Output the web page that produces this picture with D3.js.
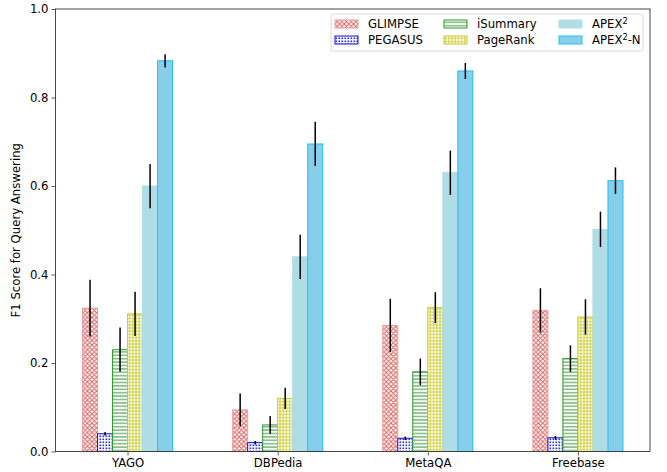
<!DOCTYPE html>
<html>
<head>
<meta charset="utf-8">
<script src="https://cdn.jsdelivr.net/npm/d3@7"></script>
<style>
  body { margin: 0; background: #fff; }
  text { font-family: "DejaVu Sans", sans-serif; fill: #000; }
</style>
</head>
<body>
<div id="chart"></div>
<script>
const datasets = ["YAGO", "DBPedia", "MetaQA", "Freebase"];
const methods = ["GLIMPSE", "PEGASUS", "iSummary", "PageRank", "APEX2", "APEX2-N"];

// f1 score per method, one value per dataset
const glimpse = [0.324, 0.094, 0.285, 0.319];
const pegasus = [0.040, 0.020, 0.030, 0.031];
const isummary = [0.230, 0.060, 0.180, 0.210];
const pagerank = [0.311, 0.120, 0.325, 0.304];
const apex2 = [0.600, 0.440, 0.630, 0.502];
const apex2n = [0.883, 0.695, 0.860, 0.612];

// half length of the error bars
const glimpseErr = [0.064, 0.037, 0.060, 0.050];
const pegasusErr = [0.004, 0.004, 0.004, 0.004];
const isummaryErr = [0.050, 0.020, 0.030, 0.030];
const pagerankErr = [0.050, 0.024, 0.035, 0.040];
const apex2Err = [0.050, 0.050, 0.050, 0.040];
const apex2nErr = [0.015, 0.050, 0.018, 0.030];

const yTicks = [0, 0.2, 0.4, 0.6, 0.8, 1.0];

const values = [glimpse, pegasus, isummary, pagerank, apex2, apex2n];
const errors = [glimpseErr, pegasusErr, isummaryErr, pagerankErr, apex2Err, apex2nErr];

const width = 667, height = 472;
const margin = {left: 55.5, right: 17, top: 9, bottom: 20.5};
const barW = 0.1;
const fs = 11.7;

const svg = d3.select("#chart").append("svg")
    .attr("width", width)
    .attr("height", height);

const x = d3.scaleLinear()
    .domain([-0.48, 3.48])
    .range([margin.left, width - margin.right]);
const y = d3.scaleLinear()
    .domain([0, 1])
    .range([height - margin.bottom, margin.top]);

//hatch patterns, one per method
const defs = svg.append("defs");

let p = defs.append("pattern").attr("id", "h0").attr("patternUnits", "userSpaceOnUse")
    .attr("width", 4.6).attr("height", 4.6);
p.append("rect").attr("width", 4.6).attr("height", 4.6).attr("fill", "#fff");
p.append("path").attr("d", "M0,0L4.6,4.6M4.6,0L0,4.6M-1,1L1,-1M3.6,5.6L5.6,3.6M-1,3.6L1,5.6M3.6,-1L5.6,1")
    .attr("stroke", "#de6262").attr("stroke-width", 1);

p = defs.append("pattern").attr("id", "h1").attr("patternUnits", "userSpaceOnUse")
    .attr("width", 3).attr("height", 3);
p.append("rect").attr("width", 3).attr("height", 3).attr("fill", "#fff");
p.append("rect").attr("x", 0.5).attr("y", 0.5).attr("width", 1.6).attr("height", 1.6).attr("fill", "#2a2af0");

p = defs.append("pattern").attr("id", "h2").attr("patternUnits", "userSpaceOnUse")
    .attr("width", 4).attr("height", 3.4);
p.append("rect").attr("width", 4).attr("height", 3.4).attr("fill", "#fff");
p.append("path").attr("d", "M0,1.7H4").attr("stroke", "#3a9a3a").attr("stroke-width", 1);

p = defs.append("pattern").attr("id", "h3").attr("patternUnits", "userSpaceOnUse")
    .attr("width", 3.2).attr("height", 3.2);
p.append("rect").attr("width", 3.2).attr("height", 3.2).attr("fill", "#fff");
p.append("path").attr("d", "M0,1.6H3.2M1.6,0V3.2").attr("stroke", "#c8c820").attr("stroke-width", 0.9);

const fills = ["url(#h0)", "url(#h1)", "url(#h2)", "url(#h3)", "#b0dde5", "#87ceeb"];
const edges = ["#eaa0a0", "#1010ee", "#2a962a", "#c8c830", "#b0dde5", "#1ec0f5"];

const bars = [];
methods.forEach((m, j) => {
    datasets.forEach((ds, i) => {
        bars.push({m: j, i: i, v: values[j][i], e: errors[j][i]});
    });
});

const g = svg.append("g");

g.selectAll("rect.bar")
    .data(bars)
    .enter()
    .append("rect")
    .attr("class", "bar")
    .attr("x", (d) => x(d.i + (d.m - 3) * barW))
    .attr("width", (d) => x(barW) - x(0))
    .attr("y", (d) => y(d.v))
    .attr("height", (d) => y(0) - y(d.v))
    .attr("fill", (d) => fills[d.m])
    .attr("stroke", (d) => edges[d.m])
    .attr("stroke-width", 1);

//error bars, no caps
g.selectAll("line.err")
    .data(bars)
    .enter()
    .append("line")
    .attr("x1", (d) => x(d.i + (d.m - 2.5) * barW))
    .attr("x2", (d) => x(d.i + (d.m - 2.5) * barW))
    .attr("y1", (d) => y(d.v - d.e))
    .attr("y2", (d) => y(d.v + d.e))
    .attr("stroke", "#000")
    .attr("stroke-width", 1.5);

// axes
const xAxis = svg.append("g")
    .attr("transform", `translate(0,${y(0)})`)
    .call(d3.axisBottom(x).tickValues([0, 1, 2, 3]).tickFormat((d) => datasets[d]).tickSize(4).tickSizeOuter(0));
const yAxis = svg.append("g")
    .attr("transform", `translate(${margin.left},0)`)
    .call(d3.axisLeft(y).tickValues(yTicks).tickFormat(d3.format(".1f")).tickSize(4).tickSizeOuter(0));

[xAxis, yAxis].forEach((a) => {
    a.select(".domain").remove();
    a.selectAll(".tick line").attr("stroke", "#333").attr("stroke-width", 0.8);
    a.selectAll("text").attr("font-size", fs).attr("fill", "#000").style("font-family", "DejaVu Sans");
});
xAxis.selectAll("text").attr("y", 6).attr("dy", "0.8em");

svg.append("rect")
    .attr("x", margin.left)
    .attr("y", margin.top)
    .attr("width", width - margin.right - margin.left)
    .attr("height", y(0) - margin.top)
    .attr("fill", "none")
    .attr("stroke", "#333")
    .attr("stroke-width", 0.9);

svg.append("text")
    .attr("transform", `translate(20,${(margin.top + y(0)) / 2}) rotate(-90)`)
    .attr("text-anchor", "middle")
    .attr("font-size", fs)
    .text("F1 Score for Query Answering");

// legend
const legend = svg.append("g");
legend.append("rect")
    .attr("x", 331).attr("y", 14).attr("width", 312).attr("height", 37)
    .attr("rx", 2)
    .attr("fill", "#fff").attr("fill-opacity", 0.8)
    .attr("stroke", "#d6d6d6").attr("stroke-width", 0.9);

const colX = [335, 444, 559];
const rowY = [24, 40];
methods.forEach((m, j) => {
    const col = Math.floor(j / 2), row = j % 2;
    const lg = legend.append("g").attr("transform", `translate(${colX[col]},${rowY[row]})`);
    lg.append("rect")
        .attr("x", 0).attr("y", -4).attr("width", 23).attr("height", 8)
        .attr("fill", fills[j]).attr("stroke", edges[j]).attr("stroke-width", 1);
    const t = lg.append("text")
        .attr("x", 33).attr("y", 0).attr("dy", "0.35em")
        .attr("font-size", fs);
    if (m.startsWith("APEX2")) {
        t.append("tspan").text("APEX");
        t.append("tspan").attr("font-size", 8.2).attr("dy", "-0.45em").text("2");
        if (m === "APEX2-N") t.append("tspan").attr("dy", "0.3em").text("-N");
    } else {
        t.text(m);
    }
});
</script>
</body>
</html>
